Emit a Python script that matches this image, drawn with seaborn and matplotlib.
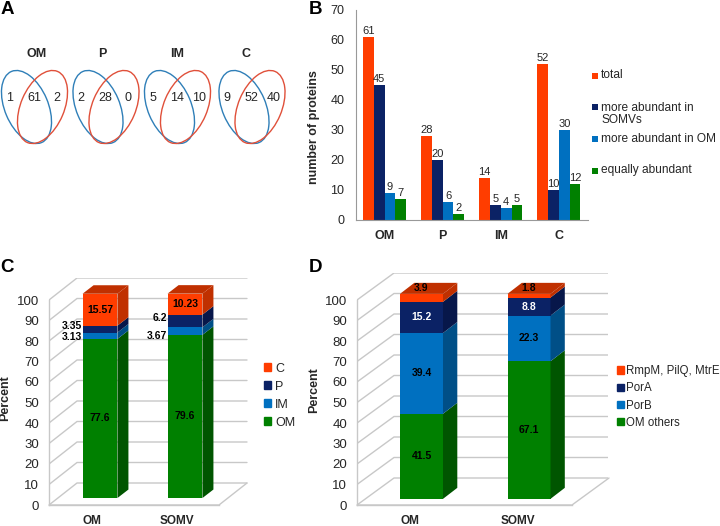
import pandas as pd
import matplotlib
matplotlib.use('Agg')
import matplotlib.pyplot as plt
from matplotlib.patches import Ellipse, Rectangle, Patch
import seaborn as sns

W, H = 720, 526

RED = '#FF3D00'
NAVY = '#0B2265'
BLUE = '#0070C0'
GREEN = '#008000'
DARK_RED = '#C03000'
DARK_NAVY = '#07174A'
DARK_BLUE = '#004F87'
DARK_GREEN = '#005500'
GRID = '#C8C8C8'
TEXT = '#262626'

# panel A
venn_titles = ['OM', 'P', 'IM', 'C']
venn_left = [1, 2, 5, 9]
venn_mid = [61, 28, 14, 52]
venn_right = [2, 0, 10, 40]

# panel B
fractions = ['OM', 'P', 'IM', 'C']
b_total = [61, 28, 14, 52]
b_somv = [45, 20, 5, 10]
b_om = [9, 6, 4, 30]
b_equal = [7, 2, 5, 12]
b_names = ['total', 'more abundant in\nSOMVs', 'more abundant in OM', 'equally abundant']

# panel C
samples = ['OM', 'SOMV']
c_om = [77.6, 79.6]
c_im = [3.13, 3.67]
c_p = [3.35, 6.2]
c_c = [15.57, 10.23]
c_names = ['OM', 'IM', 'P', 'C']

# panel D
d_others = [41.5, 67.1]
d_porb = [39.4, 22.3]
d_pora = [15.2, 8.8]
d_rmpm = [3.9, 1.8]
d_names = ['OM others', 'PorB', 'PorA', 'RmpM, PilQ, MtrE']

sns.set_theme(style='white')
plt.rcParams['font.family'] = ['Liberation Sans', 'DejaVu Sans']
plt.rcParams['text.color'] = TEXT
plt.rcParams['xtick.color'] = TEXT
plt.rcParams['ytick.color'] = TEXT

fig = plt.figure(figsize=(W / 100, H / 100), dpi=100, facecolor='white')


def px_axes(left, top, right, bottom):
    return fig.add_axes([left / W, 1 - bottom / H, (right - left) / W, (bottom - top) / H])


def px_text(x, y, s, **kw):
    fig.text(x / W, 1 - y / H, s, ha=kw.pop('ha', 'center'), va=kw.pop('va', 'center'), **kw)


# panel letters
for letter, x, y in [('A', 7, 9), ('B', 316, 9), ('C', 7, 268), ('D', 316, 268)]:
    px_text(x, y, letter, fontsize=13.5, fontweight='bold', color='black')

# A: venn diagrams, axes in pixels (y is flipped, so the angles are too)
ax_a = px_axes(0, 0, 300, 200)
ax_a.set_xlim(0, 300)
ax_a.set_ylim(200, 0)
ax_a.axis('off')
venn_x = [26.5, 98, 169.5, 244]
title_x = [37, 102, 177.5, 246]
for i, cx in enumerate(venn_x):
    ax_a.add_patch(Ellipse((cx, 107), 43.4, 77.2, angle=-23, fill=False, ec='#2F7FB8', lw=1))
    ax_a.add_patch(Ellipse((cx + 16, 107), 43.4, 77.2, angle=23, fill=False, ec='#E0503A', lw=1))
    ax_a.text(title_x[i], 54, venn_titles[i], ha='center', va='center', fontsize=9, fontweight='bold')
    ax_a.text(cx - 17, 98, venn_left[i], ha='center', va='center', fontsize=9)
    ax_a.text(cx + 7.5, 98, venn_mid[i], ha='center', va='center', fontsize=9)
    ax_a.text(cx + 30, 98, venn_right[i], ha='center', va='center', fontsize=9)

# B: grouped bars
b_df = pd.DataFrame({
    'fraction': fractions * 4,
    'group': [n for n in b_names for _ in fractions],
    'count': b_total + b_somv + b_om + b_equal,
})
ax_b = px_axes(355.5, 10, 588, 220)
sns.barplot(data=b_df, x='fraction', y='count', hue='group', hue_order=b_names,
            palette=[RED, NAVY, BLUE, GREEN], width=0.74, gap=0, saturation=1,
            linewidth=0, legend=False, ax=ax_b)
ax_b.set_xlim(-0.5, 3.5)
ax_b.set_ylim(0, 70)
ax_b.set_xlabel('')
ax_b.set_ylabel('number of proteins', fontsize=9, fontweight='bold')
ax_b.yaxis.set_label_coords(320 / W, 1 - 127 / H, transform=fig.transFigure)
ax_b.set_yticks(range(0, 71, 10))
ax_b.set_xticks([-0.5, 0.5, 1.5, 2.5, 3.5], labels=[])
ax_b.set_xticks([0, 1, 2, 3], labels=fractions, minor=True)
ax_b.tick_params(axis='x', which='minor', length=0, pad=7, labelsize=9)
ax_b.tick_params(axis='x', which='major', length=3, color='#999999', width=0.8)
ax_b.tick_params(axis='y', length=3, color='#999999', width=0.8, labelsize=9, pad=5)
for lab in ax_b.get_xticklabels(minor=True):
    lab.set_fontweight('bold')
for sp in ['top', 'right']:
    ax_b.spines[sp].set_visible(False)
for sp in ['left', 'bottom']:
    ax_b.spines[sp].set_color('#999999')
    ax_b.spines[sp].set_linewidth(0.8)
for cont in ax_b.containers:
    ax_b.bar_label(cont, fontsize=8, padding=1)

# B legend has uneven rows, so it is placed by hand
ax_bl = px_axes(590, 0, 720, 220)
ax_bl.set_xlim(590, 720)
ax_bl.set_ylim(220, 0)
ax_bl.axis('off')
for name, col, y_h, y_t in zip(b_names, [RED, NAVY, BLUE, GREEN], [75.5, 107, 138.5, 170.5], [75.5, 114, 138.5, 170.5]):
    ax_bl.add_patch(Rectangle((592, y_h - 3), 6, 6, color=col, lw=0))
    ax_bl.text(601, y_t, name, va='center', fontsize=8.6, linespacing=1.1)


def stacked_3d(ax, layers, fronts, sides, names, bar_w, bar_dx, bar_dy, lift, wall_dx, wall_dy, x0, x1):
    # back wall and floor
    ax.plot([x0, x1, x1 + wall_dx], [0, 0, wall_dy], color=GRID, lw=1, clip_on=False)
    for v in range(0, 101, 10):
        ax.plot([x0, x0 + wall_dx, x1 + wall_dx], [v, v + wall_dy, v + wall_dy], color=GRID, lw=1, zorder=1)
    bottoms = [lift, lift]
    handles = []
    for vals, name, front, side in zip(layers, names, fronts, sides):
        sns.barplot(x=samples, y=vals, bottom=bottoms, color=front, width=bar_w,
                    saturation=1, linewidth=0, ax=ax, zorder=3)
        for i in range(2):
            r = i + bar_w / 2
            b, t = bottoms[i], bottoms[i] + vals[i]
            ax.fill([r, r + bar_dx, r + bar_dx, r], [b, b + bar_dy, t + bar_dy, t],
                    color=side, lw=0, zorder=3)
        bottoms = [b + v for b, v in zip(bottoms, vals)]
        handles.append(Patch(color=front, label=name))
    # roof of each bar, coloured as a darker top layer
    for i in range(2):
        l, r = i - bar_w / 2, i + bar_w / 2
        t = bottoms[i]
        ax.fill([l, r, r + bar_dx, l + bar_dx], [t, t, t + bar_dy, t + bar_dy],
                color=sides[-1], lw=0, zorder=3)
    ax.set_xlabel('')
    ax.set_yticks(range(0, 101, 10))
    ax.set_xticks([x0, (x0 + x1) / 2, x1], labels=[])
    ax.tick_params(axis='x', which='major', length=3, color=GRID, width=1)
    ax.tick_params(axis='y', length=3, color=GRID, width=1, labelsize=9.5, pad=4)
    for sp in ['top', 'right']:
        ax.spines[sp].set_visible(False)
    ax.spines['left'].set_bounds(0, 100)
    ax.spines['bottom'].set_bounds(x0, x1)
    for sp in ['left', 'bottom']:
        ax.spines[sp].set_color(GRID)
        ax.spines[sp].set_linewidth(1)
    return handles


def sample_labels(ax, shift):
    ax.set_xticks([0 - shift, 1 - shift], labels=samples, minor=True)
    ax.tick_params(axis='x', which='minor', length=0, pad=7, labelsize=8.5)
    for lab in ax.get_xticklabels(minor=True):
        lab.set_fontweight('bold')


# C: px scale 85/category, 2.05/percent
ax_c = px_axes(49, 278, 248, 505)
c_layers = [c_om, c_im, c_p, c_c]
h_c = stacked_3d(ax_c, c_layers, [GREEN, BLUE, NAVY, RED],
                 [DARK_GREEN, DARK_BLUE, DARK_NAVY, DARK_RED], c_names,
                 0.41, 11 / 85, 8.5 / 2.05, 3.4, 28 / 85, 22 / 2.05, -0.6, 1.4)
ax_c.set_xlim(-0.6, -0.6 + 199 / 85)
ax_c.set_ylim(0, 227 / 2.05)
sample_labels(ax_c, 0.1)
ax_c.set_ylabel('Percent', fontsize=9, fontweight='bold')
ax_c.yaxis.set_label_coords(11 / W, 1 - 398 / H, transform=fig.transFigure)
for i in range(2):
    ax_c.text(i, 3.4 + c_om[i] / 2, c_om[i], ha='center', va='center', fontsize=7.5,
              fontweight='bold', color='black', zorder=5)
    ax_c.text(i, 3.4 + c_om[i] + c_im[i] + c_p[i] + c_c[i] / 2, c_c[i], ha='center', va='center',
              fontsize=7.5, fontweight='bold', color='black', zorder=5)
ax_c.text(-0.21, 87.4, c_p[0], ha='right', va='center', fontsize=7.5, fontweight='bold', color='black')
ax_c.text(-0.21, 81.8, c_im[0], ha='right', va='center', fontsize=7.5, fontweight='bold', color='black')
ax_c.text(0.79, 91.4, c_p[1], ha='right', va='center', fontsize=7.5, fontweight='bold', color='black')
ax_c.text(0.79, 82.6, c_im[1], ha='right', va='center', fontsize=7.5, fontweight='bold', color='black')
ax_c.legend(handles=h_c[::-1], loc='center left', bbox_to_anchor=(264 / W, 1 - 395.5 / H),
            bbox_transform=fig.transFigure, frameon=False, fontsize=9,
            handlelength=0.55, handleheight=0.55, handletextpad=0.35, labelspacing=0.48,
            borderpad=0, borderaxespad=0)

# D: px scale 107.5/category, 2.05/percent
ax_d = px_axes(357, 273, 608, 505)
d_layers = [d_others, d_porb, d_pora, d_rmpm]
h_d = stacked_3d(ax_d, d_layers, [GREEN, BLUE, NAVY, RED],
                 [DARK_GREEN, DARK_BLUE, DARK_NAVY, DARK_RED], d_names,
                 43 / 107.5, 14.3 / 107.5, 11 / 2.05, 3.0, 37 / 107.5, 27 / 2.05, -0.6, 1.4)
ax_d.set_xlim(-0.6, -0.6 + 251 / 107.5)
ax_d.set_ylim(0, 232 / 2.05)
sample_labels(ax_d, 0.105)
ax_d.set_ylabel('Percent', fontsize=9, fontweight='bold')
ax_d.yaxis.set_label_coords(320 / W, 1 - 390 / H, transform=fig.transFigure)
for i in range(2):
    base = 3.0
    for j, vals in enumerate(d_layers):
        mid = base + vals[i] / 2
        if j == 3:
            mid = base + vals[i] + 3.0
        ax_d.text(i, mid, vals[i], ha='center', va='center', fontsize=7.5, fontweight='bold',
                  color='white' if j == 2 else 'black', zorder=5)
        base += vals[i]
ax_d.legend(handles=h_d[::-1], loc='center left', bbox_to_anchor=(617 / W, 1 - 397 / H),
            bbox_transform=fig.transFigure, frameon=False, fontsize=8.3,
            handlelength=0.6, handleheight=0.6, handletextpad=0.2, labelspacing=0.45,
            borderpad=0, borderaxespad=0)

fig.savefig('out.png', dpi=100)
